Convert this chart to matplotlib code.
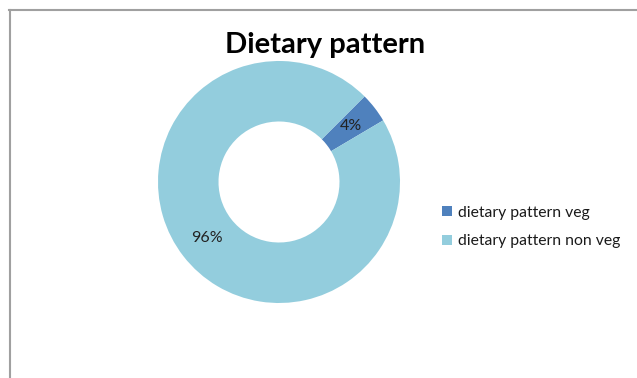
import matplotlib
matplotlib.use("Agg")
import matplotlib.pyplot as plt
from matplotlib.lines import Line2D

labels = ["dietary pattern veg", "dietary pattern non veg"]
shares = [4, 96]
colors = ["#4F81BD", "#93CDDD"]

W, H = 637, 378
fig = plt.figure(figsize=(W / 100, H / 100), dpi=100)
plt.rcParams["font.family"] = ["Lato", "DejaVu Sans"]

# chart frame (only top and left edges show)
fig.add_artist(Line2D([9 / W, 1], [1 - 9.5 / H, 1 - 9.5 / H], color="#a0a0a0", lw=1.5))
fig.add_artist(Line2D([9.5 / W, 9.5 / W], [0, 1 - 9.5 / H], color="#a0a0a0", lw=1.5))

cx, cy, r = 279, 182, 121
ax = fig.add_axes([(cx - r) / W, (H - cy - r) / H, 2 * r / W, 2 * r / H])
wedges, _, autotexts = ax.pie(
    shares, colors=colors, startangle=45, counterclock=False,
    radius=1, wedgeprops=dict(width=0.5, edgecolor="none"),
    autopct="%d%%", pctdistance=0.75,
    textprops=dict(fontsize=11.5, color="#222222"),
)
ax.set_xlim(-1, 1)
ax.set_ylim(-1, 1)
ax.set_aspect("equal")
ax.axis("off")

fig.text(325 / W, 1 - 45 / H, "Dietary pattern", ha="center", va="center",
         fontsize=21, fontweight="bold", color="#000000")

fig.legend(wedges, labels, loc="center left", bbox_to_anchor=(428 / W, 1 - 227 / H),
           frameon=False, fontsize=11.3, handlelength=0.6, handleheight=0.6,
           handletextpad=0.4, labelspacing=0.95, labelcolor="#1a1a1a")

fig.savefig("out.png", dpi=100)
